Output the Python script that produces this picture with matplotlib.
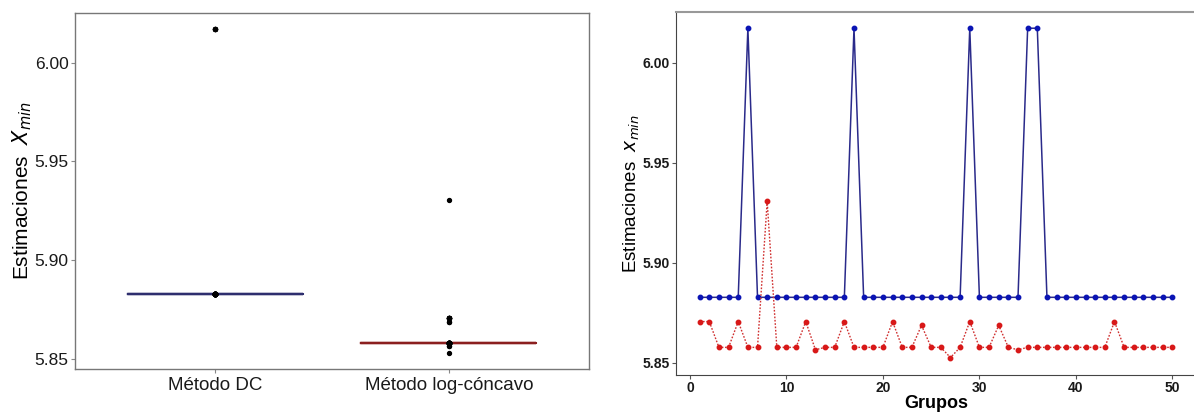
import matplotlib.pyplot as plt

plt.rcParams['font.family'] = ['Liberation Sans', 'DejaVu Sans']

# estimaciones de x_min por grupo (50 grupos)
grupos = list(range(1, 51))
dc_vals = [5.8828, 5.8828, 5.8828, 5.8828, 5.8828, 6.0172, 5.8828, 5.8828, 5.8828, 5.8828,
           5.8828, 5.8828, 5.8828, 5.8828, 5.8828, 5.8828, 6.0172, 5.8828, 5.8828, 5.8828,
           5.8828, 5.8828, 5.8828, 5.8828, 5.8828, 5.8828, 5.8828, 5.8828, 6.0172, 5.8828,
           5.8828, 5.8828, 5.8828, 5.8828, 6.0172, 6.0172, 5.8828, 5.8828, 5.8828, 5.8828,
           5.8828, 5.8828, 5.8828, 5.8828, 5.8828, 5.8828, 5.8828, 5.8828, 5.8828, 5.8828]
lc_vals = [5.8707, 5.8707, 5.8578, 5.8578, 5.8707, 5.8578, 5.8578, 5.9307, 5.8578, 5.8578,
           5.8578, 5.8707, 5.8566, 5.8578, 5.8578, 5.8707, 5.8578, 5.8578, 5.8578, 5.8578,
           5.8707, 5.8578, 5.8578, 5.8688, 5.8578, 5.8578, 5.8527, 5.8578, 5.8707, 5.8578,
           5.8578, 5.8688, 5.8578, 5.8566, 5.8578, 5.8578, 5.8578, 5.8578, 5.8578, 5.8578,
           5.8578, 5.8578, 5.8578, 5.8707, 5.8578, 5.8578, 5.8578, 5.8578, 5.8578, 5.8578]
metodos = ["Método DC", "Método log-cóncavo"]
colores_caja = ["#2e2e6e", "#8b1f1f"]
yticks = [5.85, 5.90, 5.95, 6.00]

W, H = 1194, 412
fig = plt.figure(figsize=(W / 100, H / 100), dpi=100)

# ---- panel izquierdo: cajas ----
ax1 = fig.add_axes([75 / W, (H - 369) / H, (589 - 75) / W, (369 - 12.7) / H])
for i, (vals, col) in enumerate(zip([dc_vals, lc_vals], colores_caja)):
    ax1.boxplot(vals, positions=[i + 1], widths=0.75, whis=0, showfliers=False,
                showcaps=False, patch_artist=False,
                boxprops=dict(color=col, linewidth=1.6),
                whiskerprops=dict(color=col, linewidth=1.6),
                medianprops=dict(color=col, linewidth=1.6))
    ax1.scatter([i + 1] * len(vals), vals, s=8, color="black", zorder=3)
ax1.set_xlim(0.4, 2.6)
ax1.set_ylim(5.8448, 6.0254)
ax1.set_xticks([1, 2])
ax1.set_xticklabels(metodos, fontsize=13.5, color="#1a1a1a")
ax1.set_yticks(yticks)
ax1.set_yticklabels([f"{v:.2f}" for v in yticks], fontsize=12.5, color="#1a1a1a")
ax1.set_ylabel(r"Estimaciones  $X_{min}$", fontsize=15)
ax1.yaxis.set_label_coords(-0.08, 0.5)
ax1.tick_params(length=3, color="#888888")
ax1.tick_params(axis="y", pad=1.5)
ax1.tick_params(axis="x", pad=3)
for s in ax1.spines.values():
    s.set_color("#777777")
    s.set_linewidth(1)

# ---- panel derecho: series por grupo ----
ax2 = fig.add_axes([676 / W, (H - 375) / H, (1196 - 676) / W, (375 - 12) / H])
ax2.plot(grupos, dc_vals, color="#2a2a8a", linewidth=1.1, marker="o", markersize=3.2,
         markerfacecolor="#0a14b4", markeredgecolor="#0a14b4")
ax2.plot(grupos, lc_vals, color="#d03030", linewidth=1.0, linestyle=(0, (1.2, 1.2)),
         marker="o", markersize=3.2, markerfacecolor="#d81818", markeredgecolor="#d81818")
ax2.set_xlim(-1.45, 52.45)
ax2.set_ylim(5.8440, 6.0253)
ax2.set_xticks([0, 10, 20, 30, 40, 50])
ax2.set_yticks(yticks)
ax2.set_yticklabels([f"{v:.2f}" for v in yticks])
for lab in ax2.get_xticklabels() + ax2.get_yticklabels():
    lab.set_fontweight("bold")
    lab.set_fontsize(10)
    lab.set_color("#1a1a1a")
ax2.set_xlabel("Grupos", fontsize=13, fontweight="bold", labelpad=0)
ax2.set_ylabel(r"Estimaciones  $x_{min}$", fontsize=13.5)
ax2.yaxis.set_label_coords(-0.066, 0.5)
ax2.tick_params(length=3, color="#555555")
ax2.tick_params(axis="x", pad=1.5)
ax2.tick_params(axis="y", pad=1.5)
ax2.spines["left"].set_color("#444444")
ax2.spines["bottom"].set_color("#444444")
ax2.spines["top"].set_color("#999999")
ax2.spines["top"].set_linewidth(1.5)

fig.savefig("out.png", dpi=100)
